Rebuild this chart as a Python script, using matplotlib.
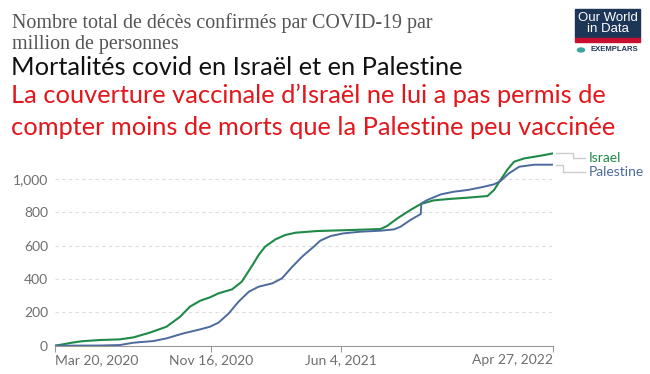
import numpy as np
import matplotlib
matplotlib.use("Agg")
import matplotlib.pyplot as plt
import matplotlib.dates as mdates
from matplotlib.patches import Rectangle

# Israel, décès par million
isr_dates = ["2020-03-20", "2020-04-01", "2020-04-15", "2020-05-01", "2020-05-28", "2020-06-28",
             "2020-07-19", "2020-08-13", "2020-09-08", "2020-09-29", "2020-10-14", "2020-10-30",
             "2020-11-14", "2020-11-27", "2020-12-18", "2021-01-02", "2021-01-17", "2021-01-28",
             "2021-02-07", "2021-02-23", "2021-03-10", "2021-03-26", "2021-04-28", "2021-06-19",
             "2021-08-04", "2021-08-14", "2021-08-30", "2021-09-19", "2021-10-05", "2021-10-25",
             "2021-11-20", "2021-12-16", "2022-01-16", "2022-01-26", "2022-02-05", "2022-02-16",
             "2022-02-26", "2022-03-14", "2022-04-08", "2022-04-27"]
isr_vals = [0, 8, 18, 27, 34, 38,
            50, 78, 114, 174, 234, 270,
            290, 314, 338, 384, 474, 544,
            594, 638, 664, 678, 688, 694,
            700, 718, 764, 814, 850, 872,
            881, 888, 898, 934, 994, 1058,
            1104, 1124, 1140, 1154]

# Palestine
pal_dates = ["2020-03-20", "2020-05-28", "2020-06-28", "2020-07-19", "2020-08-19", "2020-09-08",
             "2020-10-04", "2020-10-30", "2020-11-14", "2020-11-27", "2020-12-13", "2020-12-28",
             "2021-01-13", "2021-01-28", "2021-02-18", "2021-03-05", "2021-03-21", "2021-04-05",
             "2021-04-23", "2021-05-03", "2021-05-19", "2021-06-08", "2021-07-04", "2021-08-04",
             "2021-08-25", "2021-09-04", "2021-09-19", "2021-10-05", "2021-10-06", "2021-10-15",
             "2021-11-05", "2021-11-25", "2021-12-16", "2022-01-06", "2022-01-26", "2022-02-05",
             "2022-02-18", "2022-03-06", "2022-03-29", "2022-04-27"]
pal_vals = [0, 1, 4, 18, 28, 44,
            74, 98, 114, 138, 194, 264,
            324, 354, 374, 404, 474, 534,
            594, 630, 658, 674, 684, 690,
            698, 714, 754, 790, 854, 874,
            908, 924, 934, 950, 968, 988,
            1034, 1074, 1086, 1086]

tick_dates = ["2020-03-20", "2020-11-16", "2021-06-04", "2022-04-27"]
tick_labels = ["Mar 20, 2020", "Nov 16, 2020", "Jun 4, 2021", "Apr 27, 2022"]
y_ticks = [0, 200, 400, 600, 800, 1000]

green = "#1f8a48"
blue = "#4c6a9c"
grey = "#6e6e6e"

def to_num(lst):
    return mdates.date2num(np.array(lst, dtype="datetime64[D]"))

fig = plt.figure(figsize=(6.5, 3.74), dpi=100)
ax = fig.add_axes([55 / 650, 1 - 345.7 / 374, 498 / 650, 200 / 374])

ax.plot(to_num(isr_dates), isr_vals, color=green, lw=1.5)
ax.plot(to_num(pal_dates), pal_vals, color=blue, lw=1.4)

ax.set_xlim(to_num(["2020-03-20"])[0], to_num(["2022-04-27"])[0])
ax.set_ylim(0, 1200)
ax.set_yticks(y_ticks)
ax.set_yticklabels(["{:,}".format(v) for v in y_ticks])
ax.set_xticks(to_num(tick_dates))
ax.set_xticklabels(tick_labels)
for s in ["top", "right", "left"]:
    ax.spines[s].set_visible(False)
ax.spines["bottom"].set_color("#999999")
ax.grid(axis="y", color="#dddddd", ls=(0, (3, 3)), lw=0.8)
ax.tick_params(axis="y", length=0, pad=5, labelsize=10, labelcolor=grey)
ax.tick_params(axis="x", length=4, color="#999999", pad=2, labelsize=10, labelcolor=grey)
for t in ax.get_yticklabels() + ax.get_xticklabels():
    t.set_family(["Lato", "DejaVu Sans"])
xl = ax.get_xticklabels()
xl[0].set_ha("left")
xl[-1].set_ha("right")

# étiquettes des séries avec connecteurs
x_end = to_num(["2022-04-27"])[0]
trans = ax.transData
def px(x, y):
    return fig.transFigure.inverted().transform(trans.transform((x, y)))

def label(y_line, y_text, text, col, xstep):
    x0, y0 = px(x_end, y_line)
    _, y1 = px(x_end, y_text)
    xa = x0 + 3 / 650
    xs = x0 + xstep / 650
    xb = x0 + 32 / 650
    fig.add_artist(plt.Line2D([xa, xs, xs, xb], [y0, y0, y1, y1], color="#cccccc", lw=1,
                              transform=fig.transFigure))
    fig.text(xb + 4 / 650, y1, text, color=col, fontsize=10, va="center",
             family=["Lato", "DejaVu Sans"])

label(1154, 1124, "Israel", green, 20)
label(1086, 1040, "Palestine", blue, 10)

# titres
serif = ["Liberation Serif", "DejaVu Serif"]
sans = ["Lato", "DejaVu Sans"]
fig.text(12 / 650, 1 - 28 / 374, "Nombre total de décès confirmés par COVID-19 par",
         family=serif, fontsize=14.4, color="#555555", va="baseline")
fig.text(12 / 650, 1 - 49 / 374, "million de personnes",
         family=serif, fontsize=14.4, color="#555555", va="baseline")
fig.text(11 / 650, 1 - 75 / 374, "Mortalités covid en Israël et en Palestine",
         family=sans, fontsize=18.3, color="#111111", va="baseline")
fig.text(11 / 650, 1 - 103 / 374, "La couverture vaccinale d\u2019Israël ne lui a pas permis de",
         family=sans, fontsize=18.3, color="#e3161b", va="baseline")
fig.text(11 / 650, 1 - 135 / 374, "compter moins de morts que la Palestine peu vaccinée",
         family=sans, fontsize=18.3, color="#e3161b", va="baseline")

# logo
fig.add_artist(Rectangle((575 / 650, 1 - 38 / 374), 65 / 650, 29 / 374, color="#1d3557",
                         transform=fig.transFigure))
fig.add_artist(Rectangle((575 / 650, 1 - 41.5 / 374), 65 / 650, 3.5 / 374, color="#c8102e",
                         transform=fig.transFigure))
fig.text(607.5 / 650, 1 - 23.5 / 374, "Our World\nin Data", color="white", fontsize=9.5,
         ha="center", va="center", linespacing=0.9, family=["Liberation Sans", "DejaVu Sans"])
fig.text(614 / 650, 1 - 49.5 / 374, "EXEMPLARS", color="#1d3557", fontsize=5.5, weight="bold",
         ha="center", va="center", family=["Liberation Sans", "DejaVu Sans"])
fig.add_artist(plt.Circle((581 / 650, 1 - 50 / 374), 3.5 / 650, color="#3aa5a0",
                          transform=fig.transFigure))

fig.savefig("out.png", dpi=100)
